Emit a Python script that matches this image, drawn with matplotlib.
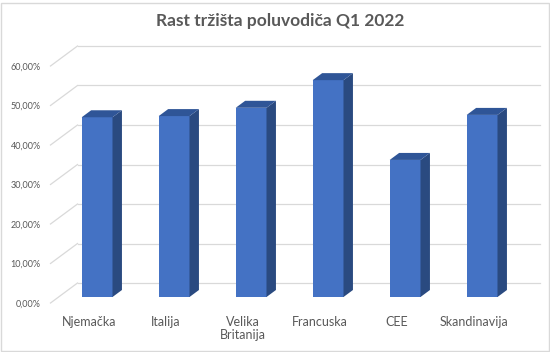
import matplotlib
matplotlib.use("Agg")
import matplotlib.pyplot as plt
from matplotlib.patches import Polygon, Rectangle
import numpy as np

categories = ["Njemačka", "Italija", "Velika\nBritanija", "Francuska", "CEE", "Skandinavija"]
values = [0.455, 0.458, 0.479, 0.549, 0.347, 0.461]
yticks = [0.0, 0.1, 0.2, 0.3, 0.4, 0.5, 0.6]
title = "Rast tržišta poluvodiča Q1 2022"

W, H = 550, 352
fig = plt.figure(figsize=(W / 100, H / 100), dpi=100)
plt.rcParams['font.family'] = ['Lato', 'DejaVu Sans']

# axes = front (z=0) plane
left_px, right_px, top_px, bot_px = 50.5, 512.5, 66, 303
ax = fig.add_axes([left_px / W, 1 - bot_px / H, (right_px - left_px) / W, (bot_px - top_px) / H])
ax.set_xlim(-0.5, 5.5)
ax.set_ylim(0, 0.6)
for s in ax.spines.values():
    s.set_visible(False)

px_x = (right_px - left_px) / 6.0
px_y = (bot_px - top_px) / 0.6
dx = 27 / px_x   # depth offset of back wall in data units
dy = 20 / px_y

grid_c = "#d9d9d9"
for v in yticks:
    ax.plot([-0.5 + dx, 5.5 + dx], [v + dy, v + dy], color=grid_c, lw=0.9, clip_on=False, zorder=1)
    ax.plot([-0.5, -0.5 + dx], [v, v + dy], color=grid_c, lw=0.9, clip_on=False, zorder=1)

z0, z1 = 0.3, 0.65
bw = 0.40
front_c, side_c, top_c = "#4472C4", "#2A4A80", "#2F5597"
x = np.arange(len(categories))
fx = x + z0 * dx
fb = z0 * dy
ax.bar(fx, values, width=bw, bottom=fb, color=front_c, zorder=3, clip_on=False)
ddx = (z1 - z0) * dx
ddy = (z1 - z0) * dy
for xi, v in zip(fx, values):
    xl, xr = xi - bw / 2, xi + bw / 2
    top = v + fb
    side = Polygon([(xr, fb), (xr, top), (xr + ddx, top + ddy), (xr + ddx, fb + ddy)],
                   closed=True, facecolor=side_c, edgecolor='none', zorder=3, clip_on=False)
    topf = Polygon([(xl, top), (xr, top), (xr + ddx, top + ddy), (xl + ddx, top + ddy)],
                   closed=True, facecolor=top_c, edgecolor='none', zorder=3, clip_on=False)
    ax.add_patch(side)
    ax.add_patch(topf)

ax.set_yticks(yticks)
ax.set_yticklabels([f"{v*100:.2f}%".replace(".", ",") for v in yticks], fontsize=6.5, color="#595959")
ax.set_xticks(x)
ax.set_xticklabels(categories, fontsize=9, color="#595959", linespacing=1.15)
ax.tick_params(axis='both', length=0)
ax.tick_params(axis='y', pad=7)
ax.tick_params(axis='x', pad=9)

fig.text(280 / W, 1 - 21 / H, title, ha='center', va='center', fontsize=12.5,
         fontweight='bold', color="#595959")

fig.patches.append(Rectangle((0.5 / W, 1.5 / H), (W - 2) / W, (H - 4) / H, transform=fig.transFigure,
                             fill=False, edgecolor="#d9d9d9", lw=1))

fig.savefig("out.png", dpi=100)
